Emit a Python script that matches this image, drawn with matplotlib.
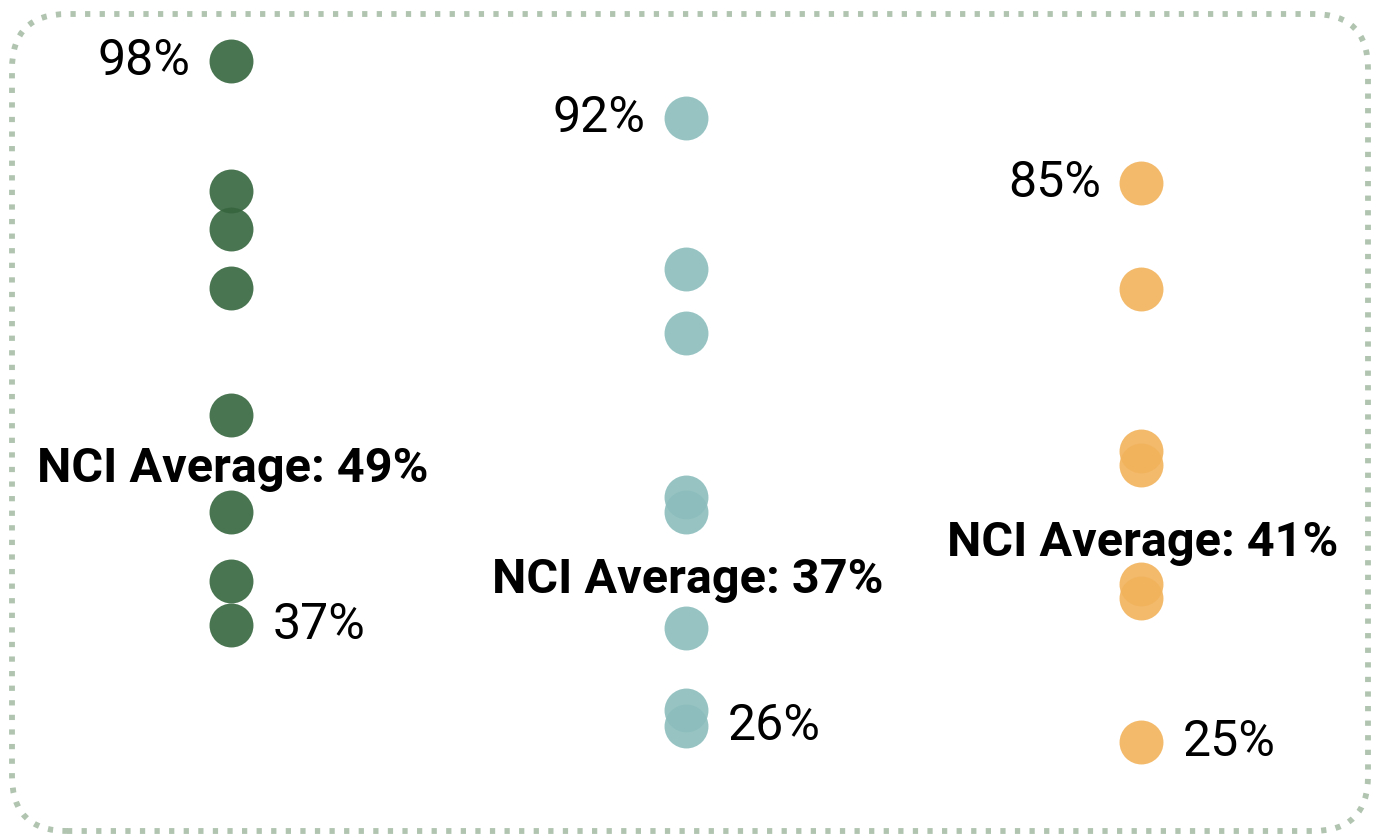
import matplotlib.pyplot as plt
from matplotlib.patches import FancyBboxPatch

plt.rcParams['font.family'] = ['Roboto', 'DejaVu Sans']

# one column of dots per group, values in %
green_vals = [98.1, 84.0, 79.9, 73.6, 59.9, 49.4, 42.0, 37.2]
teal_vals = [91.9, 75.6, 68.7, 51.0, 49.4, 36.9, 28.1, 26.3]
orange_vals = [84.9, 73.5, 56.0, 54.5, 41.7, 40.1, 24.6]
nci_avg = [49, 37, 41]

groups = [green_vals, teal_vals, orange_vals]
colors = ['#36663e', '#8cbebd', '#f2b35c']

fig = plt.figure(figsize=(13.74, 8.36), dpi=100)
ax = fig.add_axes([0, 0, 1, 1])
ax.set_xlim(-0.5077, 2.512)
ax.set_ylim(14.47, 104.65)
ax.axis('off')

for i, (vals, col) in enumerate(zip(groups, colors)):
    ax.scatter([i] * len(vals), vals, s=1000, color=col, alpha=0.9, linewidths=0, zorder=2)
    hi, lo = max(vals), min(vals)
    ax.annotate(f"{round(hi)}%", (i, hi), xytext=(-29, 0), textcoords='offset points',
                ha='right', va='center', fontsize=36, color='black')
    ax.annotate(f"{round(lo)}%", (i, lo), xytext=(30, 0), textcoords='offset points',
                ha='left', va='center', fontsize=36, color='black')
    ax.annotate(f"NCI Average: {nci_avg[i]}%", (i, nci_avg[i]), xytext=(1, 34),
                textcoords='offset points', ha='center', va='center',
                fontsize=35, fontweight='bold', color='black', zorder=3)

# dotted rounded frame
frame = FancyBboxPatch((0.12, 0.05), 13.56, 8.17,
                       boxstyle="round,pad=0,rounding_size=0.55",
                       transform=fig.dpi_scale_trans, fill=False,
                       edgecolor='#b0c4b0', linewidth=4.2,
                       linestyle=(0, (0.9, 1.6)), capstyle='butt')
fig.patches.append(frame)

fig.savefig('out.png', dpi=100)
